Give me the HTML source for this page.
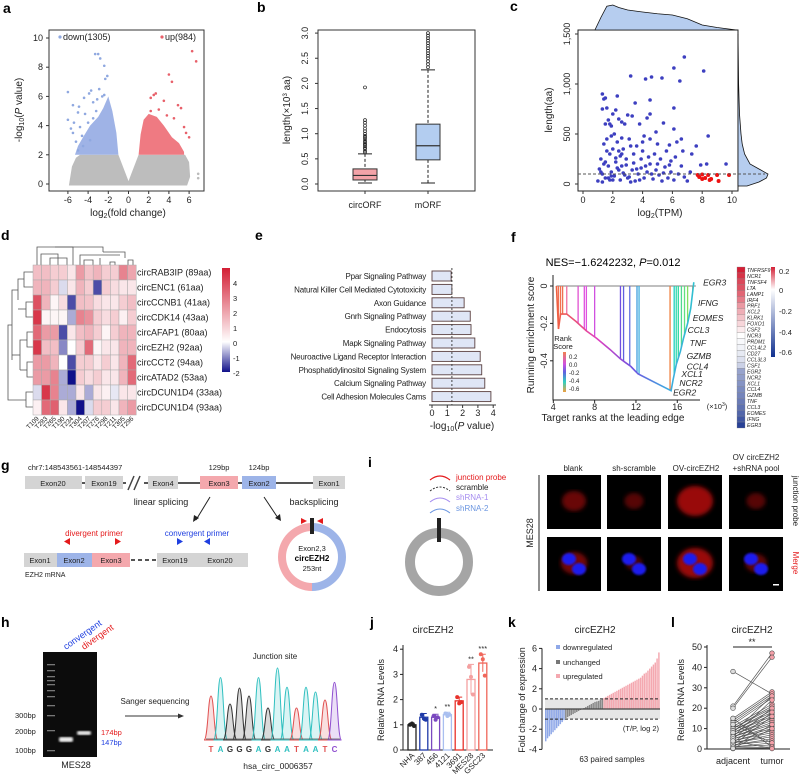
<!DOCTYPE html>
<html><head><meta charset="utf-8">
<style>
html,body{margin:0;padding:0;background:#fff}
svg{display:block;font-family:"Liberation Sans",Arial,sans-serif}
.pl{font-weight:bold;font-size:14px}
.t{font-size:9px;fill:#222}
.s{font-size:7.5px;fill:#222}
</style></head>
<body>
<svg id="fig" width="800" height="781" viewBox="0 0 800 781" xmlns="http://www.w3.org/2000/svg">
<defs>
<linearGradient id="hmGrad" x1="0" y1="0" x2="0" y2="1">
<stop offset="0" stop-color="#d31f35"/><stop offset="0.71" stop-color="#ffffff"/><stop offset="1" stop-color="#10108a"/>
</linearGradient>
<linearGradient id="gsGrad" x1="0" y1="0" x2="0" y2="1">
<stop offset="0" stop-color="#d31f35"/><stop offset="0.25" stop-color="#ffffff"/><stop offset="1" stop-color="#10308f"/>
</linearGradient>
<linearGradient id="rankGrad" x1="0" y1="0" x2="0" y2="1">
<stop offset="0" stop-color="#f08050"/><stop offset="0.3" stop-color="#d050e0"/><stop offset="0.5" stop-color="#6060e0"/><stop offset="0.75" stop-color="#30d0c0"/><stop offset="1" stop-color="#f0a040"/>
</linearGradient>
<linearGradient id="curveGrad" x1="0" y1="0" x2="1" y2="0">
<stop offset="0" stop-color="#f06040"/><stop offset="0.3" stop-color="#e040c0"/><stop offset="0.55" stop-color="#7050e0"/><stop offset="0.8" stop-color="#40a8e0"/><stop offset="1" stop-color="#30c0d0"/>
</linearGradient>
<filter id="blur2"><feGaussianBlur stdDeviation="2"/></filter>
<filter id="blur1"><feGaussianBlur stdDeviation="1"/></filter>
</defs>

<text class="pl" x="3" y="13">a</text>
<text class="pl" x="257" y="12">b</text>
<text class="pl" x="510" y="11">c</text>
<text class="pl" x="1" y="240">d</text>
<text class="pl" x="255" y="240">e</text>
<text class="pl" x="511" y="242">f</text>
<text class="pl" x="1" y="470">g</text>
<text class="pl" x="368" y="467">i</text>
<text class="pl" x="1" y="627">h</text>
<text class="pl" x="370" y="627">j</text>
<text class="pl" x="508" y="627">k</text>
<text class="pl" x="671" y="627">l</text>

<g id="pa">
<rect x="49" y="30" width="155" height="161" fill="none" stroke="#333" stroke-width="1"/>
<text x="22" y="110" transform="rotate(-90 22 110)" text-anchor="middle" class="t" style="font-size:10px">-log<tspan font-size="7" dy="2">10</tspan><tspan dy="-2">(</tspan><tspan font-style="italic">P</tspan> value)</text>
<text x="128" y="216" text-anchor="middle" class="t" style="font-size:10px">log<tspan font-size="7" dy="2">2</tspan><tspan dy="-2">(fold change)</tspan></text>
<circle cx="60" cy="37" r="1.6" fill="#8fa8e0"/>
<text x="63" y="40" class="t">down(1305)</text>
<circle cx="162" cy="37" r="1.6" fill="#e8606a"/>
<text x="165" y="40" class="t">up(984)</text>
</g>

<g id="pb">
<rect x="318" y="30" width="157" height="161" fill="none" stroke="#333"/>
<text x="290" y="110" transform="rotate(-90 290 110)" text-anchor="middle" class="t" style="font-size:10px">length(×10<tspan font-size="6" dy="-3">3</tspan><tspan dy="3"> aa)</tspan></text>
<text x="365" y="208" text-anchor="middle" class="t">circORF</text>
<text x="428" y="208" text-anchor="middle" class="t">mORF</text>
</g>

<g id="pc">
<rect x="578" y="30" width="160" height="161" fill="none" stroke="#222"/>
<text x="552" y="110" transform="rotate(-90 552 110)" text-anchor="middle" class="t" style="font-size:10px">length(aa)</text>
<text x="660" y="216" text-anchor="middle" class="t" style="font-size:10px">log<tspan font-size="7" dy="2">2</tspan><tspan dy="-2">(TPM)</tspan></text>
</g>

<g id="pd">
<g stroke="#555" stroke-width="0.8" fill="none">
<path d="M37 265 V247 H73 V265"/><path d="M41 265 V254 H58 V258"/><path d="M58 258 V265"/><path d="M50 265 V258 H67 V265"/>
<path d="M55 247 H103 V252"/><path d="M80 265 V255 H120 V255"/><path d="M84 265 V260 H93 V265"/><path d="M100 258 V265"/><path d="M110 265 V262 H115 V265"/><path d="M128 265 V260 H133 V265"/><path d="M103 252 H125 V258"/>
</g>
<g stroke="#555" stroke-width="0.8" fill="none">
<path d="M33 272 H24 V287 H33"/><path d="M24 279 H18 V300"/><path d="M33 302 H26 V317 H33"/><path d="M26 309 H18"/><path d="M18 290 H12 V360"/><path d="M33 332 H27 V347 H33"/><path d="M27 340 H20 V370"/><path d="M33 362 H27 V377 H33"/><path d="M27 370 H20"/><path d="M20 355 H12"/><path d="M33 392 H26 V407 H33"/><path d="M26 400 H8 V325 H12"/>
</g>
<rect x="222" y="268" width="8" height="104" fill="url(#hmGrad)"/>
</g>

<g id="pe">
<text x="462" y="429" text-anchor="middle" class="t" style="font-size:10px">-log<tspan font-size="7" dy="2">10</tspan><tspan dy="-2">(</tspan><tspan font-style="italic">P</tspan> value)</text>
</g>

<g id="pf">
<text x="613" y="266" text-anchor="middle" style="font-size:11px">NES=−1.6242232, <tspan font-style="italic">P</tspan>=0.012</text>
<text x="534" y="335" transform="rotate(-90 534 335)" text-anchor="middle" class="t" style="font-size:10px">Running enrichment score</text>
<text x="613" y="421" text-anchor="middle" class="t" style="font-size:10px">Target ranks at the leading edge</text>
<text x="717" y="409" text-anchor="middle" class="s">(×10<tspan font-size="5" dy="-3">3</tspan><tspan dy="3">)</tspan></text>
<text x="563" y="341" text-anchor="middle" class="s">Rank</text>
<text x="563" y="349" text-anchor="middle" class="s">Score</text>
<rect x="563" y="352" width="3" height="40" fill="url(#rankGrad)"/>
<text x="569" y="359" class="s" style="font-size:6px">0.2</text>
<text x="569" y="367" class="s" style="font-size:6px">0.0</text>
<text x="569" y="375" class="s" style="font-size:6px">-0.2</text>
<text x="569" y="383" class="s" style="font-size:6px">-0.4</text>
<text x="569" y="391" class="s" style="font-size:6px">-0.6</text>
<rect x="771" y="267" width="4" height="90" fill="url(#gsGrad)"/>
<text x="779" y="274" class="s">0.2</text>
<text x="779" y="293" class="s">0</text>
<text x="779" y="314" class="s">-0.2</text>
<text x="779" y="335" class="s">-0.4</text>
<text x="779" y="355" class="s">-0.6</text>
</g>

<g id="pg" font-size="8">
<text x="28" y="470" class="s" style="font-size:7.5px">chr7:148543561-148544397</text>
<text x="219" y="470" text-anchor="middle" class="s">129bp</text>
<text x="259" y="470" text-anchor="middle" class="s">124bp</text>
<line x1="25" y1="483" x2="345" y2="483" stroke="#555" stroke-width="2"/>
<rect x="25" y="476" width="57" height="13" fill="#d4d4d4"/><text x="53" y="486" text-anchor="middle" class="s">Exon20</text>
<rect x="85" y="476" width="38" height="13" fill="#d4d4d4"/><text x="104" y="486" text-anchor="middle" class="s">Exon19</text>
<rect x="126" y="478" width="18" height="9" fill="#fff"/>
<path d="M128 490 L134 476 M134 490 L140 476" stroke="#444" stroke-width="1.5"/>
<rect x="148" y="476" width="30" height="13" fill="#d4d4d4"/><text x="163" y="486" text-anchor="middle" class="s">Exon4</text>
<rect x="200" y="476" width="38" height="13" fill="#f4a8ad"/><text x="219" y="486" text-anchor="middle" class="s">Exon3</text>
<rect x="242" y="476" width="34" height="13" fill="#9db4e8"/><text x="259" y="486" text-anchor="middle" class="s">Exon2</text>
<rect x="313" y="476" width="32" height="13" fill="#d4d4d4"/><text x="329" y="486" text-anchor="middle" class="s">Exon1</text>
<text x="161" y="505" text-anchor="middle" class="t">linear splicing</text>
<text x="314" y="505" text-anchor="middle" class="t">backsplicing</text>
<path d="M210 497 L196 520" stroke="#222" stroke-width="1"/><path d="M193 522 L194 515 L199 518 Z" fill="#222"/>
<path d="M264 497 L278 518" stroke="#222" stroke-width="1"/><path d="M281 521 L275 518 L280 514 Z" fill="#222"/>
<text x="94" y="536" text-anchor="middle" style="font-size:8px" fill="#e41a1c">divergent primer</text>
<text x="197" y="536" text-anchor="middle" style="font-size:8px" fill="#1f3fe0">convergent primer</text>
<path d="M70 545 L64 541.5 L70 538 Z" fill="#e41a1c"/>
<path d="M115 545 L121 541.5 L115 538 Z" fill="#e41a1c"/>
<path d="M177 545 L183 541.5 L177 538 Z" fill="#1f3fe0"/>
<path d="M210 545 L204 541.5 L210 538 Z" fill="#1f3fe0"/>
<rect x="24" y="553" width="33" height="14" fill="#d4d4d4"/><text x="40" y="563" text-anchor="middle" class="s">Exon1</text>
<rect x="57" y="553" width="35" height="14" fill="#9db4e8"/><text x="74" y="563" text-anchor="middle" class="s">Exon2</text>
<rect x="92" y="553" width="38" height="14" fill="#f4a8ad"/><text x="111" y="563" text-anchor="middle" class="s">Exon3</text>
<line x1="131" y1="560" x2="157" y2="560" stroke="#555" stroke-width="2" stroke-dasharray="4 3"/>
<rect x="157" y="553" width="36" height="14" fill="#d4d4d4"/><text x="175" y="563" text-anchor="middle" class="s">Exon19</text>
<rect x="193" y="553" width="55" height="14" fill="#d4d4d4"/><text x="220" y="563" text-anchor="middle" class="s">Exon20</text>
<text x="25" y="577" class="s" style="font-size:7px">EZH2 mRNA</text>
<path d="M312 523 A34 34 0 0 0 312 591 L312 583 A26 26 0 0 1 312 531 Z" fill="#f4a8ad"/>
<path d="M312 523 A34 34 0 0 1 312 591 L312 583 A26 26 0 0 0 312 531 Z" fill="#9db4e8"/>
<rect x="310" y="518" width="4" height="16" fill="#222"/>
<path d="M301 518 L307 521 L301 524 Z" fill="#e41a1c"/>
<path d="M323 518 L317 521 L323 524 Z" fill="#e41a1c"/>
<text x="312" y="551" text-anchor="middle" class="s">Exon2,3</text>
<text x="312" y="561" text-anchor="middle" style="font-size:8px;font-weight:bold">circEZH2</text>
<text x="312" y="571" text-anchor="middle" class="s">253nt</text>
</g>

<g id="pi">
<circle cx="439" cy="562" r="29" fill="none" stroke="#a5a5a5" stroke-width="10"/>
<rect x="437" y="518" width="4" height="24" fill="#222"/>
<path d="M430 480 Q440 472 450 480" fill="none" stroke="#e41a1c" stroke-width="1.2"/>
<path d="M430 491 Q440 483 450 491" fill="none" stroke="#333" stroke-width="1" stroke-dasharray="2 1.5"/>
<path d="M430 502 Q440 494 450 502" fill="none" stroke="#a58cf0" stroke-width="1"/>
<path d="M430 513 Q440 505 450 513" fill="none" stroke="#6a95e0" stroke-width="1"/>
<text x="456" y="480" style="font-size:8px" fill="#e41a1c">junction probe</text>
<text x="456" y="490" style="font-size:8px" fill="#222">scramble</text>
<text x="456" y="500" style="font-size:8px" fill="#a58cf0">shRNA-1</text>
<text x="456" y="511" style="font-size:8px" fill="#6a95e0">shRNA-2</text>
<text x="573" y="471" text-anchor="middle" class="t" style="font-size:8px">blank</text>
<text x="634" y="471" text-anchor="middle" class="t" style="font-size:8px">sh-scramble</text>
<text x="696" y="471" text-anchor="middle" class="t" style="font-size:8px">OV-circEZH2</text>
<text x="756" y="460" text-anchor="middle" class="t" style="font-size:8px">OV circEZH2</text>
<text x="756" y="471" text-anchor="middle" class="t" style="font-size:8px">+shRNA pool</text>
<text x="533" y="533" transform="rotate(-90 533 533)" text-anchor="middle" class="t" style="font-size:9px">MES28</text>
<line x1="539" y1="475" x2="539" y2="591" stroke="#222"/>
<text x="793" y="501" transform="rotate(90 793 501)" text-anchor="middle" class="t" style="font-size:8px">junction probe</text>
<text x="793" y="563" transform="rotate(90 793 563)" text-anchor="middle" style="font-size:8px" fill="#e41a1c">Merge</text>
</g>

<g id="ph">
<rect x="43" y="652" width="54" height="105" fill="#0c0c0c"/>
<text x="66" y="650" transform="rotate(-35 66 650)" style="font-size:9px" fill="#2040e0">convergent</text>
<text x="84" y="650" transform="rotate(-35 84 650)" style="font-size:9px" fill="#e41a1c">divergent</text>
<text x="15" y="718" class="s">300bp</text>
<text x="15" y="734" class="s">200bp</text>
<text x="15" y="753" class="s">100bp</text>
<text x="101" y="735" style="font-size:7.5px" fill="#e41a1c">174bp</text>
<text x="101" y="745" style="font-size:7.5px" fill="#2040e0">147bp</text>
<text x="76" y="768" text-anchor="middle" class="t">MES28</text>
<text x="155" y="704" text-anchor="middle" class="t" style="font-size:8px">Sanger sequencing</text>
<line x1="125" y1="716" x2="180" y2="716" stroke="#333"/><path d="M184 716 L178 713.5 L178 718.5 Z" fill="#333"/>
<text x="275" y="659" text-anchor="middle" class="t" style="font-size:8px">Junction site</text>
<text x="278" y="769" text-anchor="middle" class="t" style="font-size:8.5px">hsa_circ_0006357</text>
</g>

<g id="pj">
<text x="433" y="633" text-anchor="middle" class="t" style="font-size:10px">circEZH2</text>
<text x="384" y="700" transform="rotate(-90 384 700)" text-anchor="middle" class="t">Relative RNA Levels</text>
</g>
<g id="pk">
<text x="595" y="633" text-anchor="middle" class="t" style="font-size:10px">circEZH2</text>
<text x="525" y="700" transform="rotate(-90 525 700)" text-anchor="middle" class="t">Fold change of expression</text>
<rect x="556" y="645" width="4" height="4" fill="#8fa8e8"/><text x="563" y="650" class="s">downregulated</text>
<rect x="556" y="660" width="4" height="4" fill="#777"/><text x="563" y="665" class="s">unchanged</text>
<rect x="556" y="674" width="4" height="4" fill="#f4a8b0"/><text x="563" y="679" class="s">upregulated</text>
<text x="659" y="731" text-anchor="end" class="s">(T/P, log 2)</text>
<text x="612" y="762" text-anchor="middle" class="s" style="font-size:8px">63 paired samples</text>
</g>
<g id="pl">
<text x="752" y="633" text-anchor="middle" class="t" style="font-size:10px">circEZH2</text>
<text x="684" y="700" transform="rotate(-90 684 700)" text-anchor="middle" class="t">Relative RNA Levels</text>
<text x="733" y="764" text-anchor="middle" class="t">adjacent</text>
<text x="772" y="764" text-anchor="middle" class="t">tumor</text>
<path d="M733 647 H772" stroke="#222"/>
<text x="752" y="645" text-anchor="middle" class="t">**</text>
</g>
</svg>

<script>
// ---------- data ----------
const volcanoDownX=[-3.3,-3,-2.8,-2.4,-2.1,-2.3,-3.7,-6,-3.9,-2.4,-4.4,-2.6,-5.5,-4.9,-3.5,-5,-6,-5.4,-4.3,-5.7,-5.5,-4.8,-4.6,-5.2,-4,-3.5,-4.5,-5,-3.8,-3.2,-2.9,-3.1];
const volcanoDownY=[8.9,8.9,8.6,8.1,7.4,7.2,6.4,6.3,6.2,6.1,5.9,6.0,5.4,5.3,5.6,4.9,4.4,4.2,4.8,3.8,3.5,3.9,3.3,2.9,4.2,4.5,2.6,2.3,3.0,5.0,6.5,5.8];
const volcanoUpX=[6.3,6.7,4,4.3,2.7,2.5,2.2,3.5,4.9,5.2,3,4.5,5.5,6,5.7,3.8,2.2,6.9,6.9];
const volcanoUpY=[9.1,8.4,7.5,7.0,6.2,6.1,5.9,5.7,5.4,5.2,5.1,4.5,3.9,3.2,3.5,4.7,5.0,0.7,0.4];
const downCloudX=[-1,-1.2,-1.6,-2,-2.5,-3,-3.8,-4.5,-5,-5.3];
const downCloudY=[2,3.5,5,6,5.2,4.6,4,3.2,2.6,2];
const upCloudX=[1,1.2,1.5,2,2.8,3.5,4.3,5,5.5,5.5];
const upCloudY=[2,3.4,4.4,4.8,4.6,4,3.2,2.8,2.2,2];
const grayCloudX=[-5.9,-5.6,-5.2,-4.8,-1,0,1,5.6,6,6.1,5.8];
const grayCloudY=[-0.1,1.2,1.8,2,2,0.2,2,2,1.5,0.5,-0.1];
const volcanoXTicks=[-6,-4,-2,0,2,4,6];
const volcanoYTicks=[0,2,4,6,8,10];

const boxGroups=['circORF','mORF'];
const boxQ1=[0.08,0.48];const boxMed=[0.17,0.76];const boxQ3=[0.3,1.19];
const boxLo=[0.02,0.02];const boxHi=[0.6,2.27];
const circOutliers=[0.63,0.66,0.7,0.72,0.75,0.78,0.8,0.83,0.86,0.9,0.93,0.96,1.0,1.05,1.1,1.16,1.22,1.27,1.92];
const mOutliers=[2.32,2.38,2.44,2.5,2.55,2.6,2.65,2.7,2.75,2.8,2.85,2.9,2.95,3.0];
const boxYTicks=[0,0.5,1.0,1.5,2.0,2.5,3.0];

const scatX=[1.3,1.4,1.5,1.3,1.6,1.7,1.5,1.8,1.9,2.3,2.2,2.0,2.4,2.6,2.8,3.2,3.0,3.3,3.5,4.2,4.6,5.3,4.5,4.5,4.3,3.8,6.1,6.5,6.8,8.1,6.1,6.1,5.4,4.9,4.1,4.5,5.0,5.8,6.3,6.6,7.6,8.4,7.3,6.7,7.9,8.3,9.6,1.2,1.4,1.6,1.8,2.0,2.1,2.3,2.5,2.7,2.9,3.1,3.4,3.6,3.9,4.0,4.4,4.8,5.2,5.6,5.9,6.2,1.1,1.3,1.5,1.7,1.9,2.1,2.3,2.5,2.7,2.9,3.1,3.3,3.5,3.7,3.9,4.1,4.3,4.5,4.7,4.9,5.1,5.3,5.5,5.7,5.9,6.1,6.4,6.8,7.2,7.0,1.0,1.4,1.8,2.2,2.6,3.0,3.4,3.8,4.2,4.6,5.0,5.4,5.8,6.6,1.6,2.4,3.2,4.0,1.9,2.6,1.2,1.7,2.2,2.8,3.6,1.5,2.0,2.6,3.2,1.3,1.9,2.4];
const scatY=[900,850,860,750,760,640,600,600,580,880,740,700,650,620,600,1080,690,680,810,1050,1070,1060,840,700,660,600,1160,1030,1270,1130,760,550,610,520,480,450,400,390,420,450,380,480,300,330,190,200,200,250,400,450,300,350,500,420,280,350,250,450,300,380,250,330,270,300,250,330,230,270,150,100,60,180,120,80,160,40,110,190,70,140,30,100,160,60,120,200,50,140,90,30,170,60,120,40,100,70,120,30,30,200,40,220,180,60,210,40,180,100,200,110,190,180,330,330,380,420,480,460,120,60,260,90,150,220,40,300,20,20,80,140];
const redX=[7.7,7.8,8.0,8.2,8.4,8.5,8.6,9.0,9.1,9.8,8.0];
const redY=[90,70,50,60,90,40,50,90,30,90,95];
const densTopX=[0.8,1.2,1.6,2,2.4,3,4,5,6,7,8,9,10.3];
const densTopH=[0,0.5,0.95,1,0.9,0.8,0.72,0.65,0.6,0.45,0.2,0.1,0];
const densRightY=[-20,20,60,100,150,200,300,400,500,700,1000,1500];
const densRightW=[0.3,0.7,0.95,1,0.7,0.4,0.22,0.14,0.1,0.05,0.02,0];
const scatXTicks=[0,2,4,6,8,10];
const scatYTicks=[0,500,1000,1500];
const scatYLabels=['0','500','1,000','1,500'];

const hmRows=['circRAB3IP (89aa)','circENC1 (61aa)','circCCNB1 (41aa)','circCDK14 (43aa)','circAFAP1 (80aa)','circEZH2 (92aa)','circCCT2 (94aa)','circATAD2 (53aa)','circDCUN1D4 (33aa)','circDCUN1D4 (93aa)'];
const hmCols=['T109','T283','T265','T190','T234','T304','T207','T276','T298','T211','T305','T296'];
const hmR1=[1.3,1.3,1,1,0.5,2,1.2,1.5,1,1,2.5,1.8];
const hmR2=[1.5,1.5,1,-0.3,0.5,1.5,1,-1.5,1,0.7,0.5,0.5];
const hmR3=[3.5,1.5,0.2,0.7,-1.5,1.3,1.2,0.7,0.5,0.5,1,1.3];
const hmR4=[4,0.2,0.2,0.2,-0.7,2.5,2.2,1,0.7,1,0.3,1];
const hmR5=[3,2,2,-1.5,0.5,1.3,1.5,1,0.2,1,1.5,1.5];
const hmR6=[4,1.3,1.3,-1,0,1,3,0.2,0.5,0.5,1.5,1.5];
const hmR7=[2,2,1.5,0,-1.5,1,1,0.5,1,0.5,1.5,3];
const hmR8=[2,2,2.5,-0.7,-2,1,0.7,1,0.5,0.5,1.5,3];
const hmR9=[-0.3,4,2.5,-0.7,-0.7,0.5,-0.7,0.5,0.3,-0.2,0.5,0.5];
const hmR10=[0.3,3,3.2,0.5,-0.7,-2,-0.3,1,1,0.5,1.5,2];
const hmTickVals=[4,3,2,1,0,-1,-2];

const pathways=['Ppar Signaling Pathway','Natural Killer Cell Mediated Cytotoxicity','Axon Guidance','Gnrh Signaling Pathway','Endocytosis','Mapk Signaling Pathway','Neuroactive Ligand Receptor Interaction','Phosphatidylinositol Signaling System','Calcium Signaling Pathway','Cell Adhesion Molecules Cams'];
const pathwayLogP=[1.25,1.3,2.1,2.5,2.55,2.8,3.15,3.25,3.45,3.85];
const pathwayTicks=[0,1,2,3,4];

const esRank=[4.3,4.5,4.7,5.3,6.2,7.2,8.2,9.5,10.5,11.0,11.5,12.2,15.4,15.6,15.9,16.3,16.6,17.0,17.3,17.6];
const esScore=[0,-0.23,-0.15,-0.15,-0.19,-0.24,-0.28,-0.34,-0.39,-0.41,-0.43,-0.47,-0.56,-0.5,-0.42,-0.35,-0.28,-0.2,-0.12,0.02];
const hitRank=[4.5,4.7,4.9,5.3,6.4,7.0,7.2,8.0,10.5,10.8,11.4,12.1,12.3,15.3,15.7,15.9,16.1,16.4,16.7,17.0,17.5];
const hitColor=['#f07050','#f07050','#f07050','#f070a0','#e050d0','#e050e0','#e050e0','#d050e0','#7050e0','#6060e0','#6070e0','#40a0e0','#40b0e0','#f08040','#20d0c0','#30d8b0','#30d8a0','#50d890','#60e080','#80e060','#f08030'];
const gseaYTicks=[0,-0.2,-0.4];
const gseaXTicks=[4,8,12,16];
const leadGenes=['EGR3','IFNG','EOMES','CCL3','TNF','GZMB','CCL4','XCL1','NCR2','EGR2'];
const leadGeneRank=[18.5,18.0,17.5,17.0,17.2,16.9,16.9,16.4,16.2,15.6];
const leadGeneES=[0.02,-0.09,-0.17,-0.235,-0.305,-0.375,-0.43,-0.47,-0.52,-0.57];
const gseaGenes=['TNFRSF9','NCR1','TNFSF4','LTA','LAMP1','IRF4','PRF1','XCL2','KLRK1','FOXO1','CSF2','NCR3','PRDM1','CCL4L2','CD27','CCL3L3','CSF1','EGR2','NCR2','XCL1','CCL4','GZMB','TNF','CCL3','EOMES','IFNG','EGR3'];
const gseaGeneScore=[0.22,0.2,0.18,0.17,0.15,0.13,0.1,0.08,0.06,0.04,0.02,0,-0.02,-0.04,-0.07,-0.1,-0.15,-0.3,-0.32,-0.35,-0.38,-0.4,-0.43,-0.46,-0.5,-0.55,-0.62];

const seqBases=['T','A','G','G','G','A','G','A','A','T','A','A','T','C'];
const seqPeak=[0.55,0.78,0.45,0.65,0.55,0.78,0.4,0.9,0.66,0.4,0.66,0.6,0.5,0.72];

const jLines=['NHA','387','456','4121','3691','MES28','GSC23'];
const jMean=[1.0,1.3,1.3,1.4,1.95,2.8,3.45];
const jErr=[0.06,0.15,0.12,0.1,0.15,0.6,0.35];
const jRep1=[1.0,1.4,1.35,1.45,2.1,3.3,3.8];
const jRep2=[1.05,1.25,1.2,1.35,1.85,2.9,3.6];
const jRep3=[0.95,1.2,1.3,1.4,1.9,2.2,2.95];
const jStars=['','','*','**','','**','***'];
const jYTicks=[0,1,2,3,4];

const kValues=[-3.2,-2.9,-2.7,-2.5,-2.3,-2.1,-1.9,-1.7,-1.5,-1.3,-1.1,-0.9,-0.8,-0.7,-0.6,-0.5,-0.4,-0.3,-0.2,-0.1,0.05,0.1,0.2,0.3,0.4,0.5,0.6,0.7,0.75,0.8,0.9,0.95,1.1,1.2,1.3,1.4,1.5,1.6,1.7,1.8,1.9,2.0,2.1,2.2,2.3,2.4,2.5,2.6,2.7,2.8,2.9,3.0,3.1,3.3,3.5,3.6,3.8,4.0,4.2,4.4,4.6,5.0,5.6];
const kYTicks=[-4,-2,0,2,4,6];

const lAdjacent=[38,21,20,15,14,13,12,11,10,10,9,9,8,8,7,7,6,6,5,5,4,4,3,3,2,2,1,1,0.5,0.2,12,15,8,6,5,3,2,1,0.3,4];
const lTumor=[27,47,45,28,27,26,25,22,21,20,19,18,17,16,15,14,13,12,11,10,9,8,7,6,5,4,3,2,1,0.5,3,1,26,24,20,18,16,12,10,0.2];
const lYTicks=[0,10,20,30,40,50];

// ---------- helpers ----------
const NS='http://www.w3.org/2000/svg';
const fig=document.getElementById('fig');
function mk(tag,attrs,parent){const e=document.createElementNS(NS,tag);for(const k in attrs)e.setAttribute(k,attrs[k]);(parent||fig).appendChild(e);return e;}
function txt(s,attrs,parent){const e=mk('text',attrs,parent);e.textContent=s;return e;}
function lin(a,b,c,d){return v=>c+(v-a)*(d-c)/(b-a);}
let el;

// ---------- a ----------
{const g=document.getElementById('pa');
const X=lin(0,1,128.5,138.6), Y=lin(0,1,184,169.4);
el=mk('polygon',{points:grayCloudX.map((x,i)=>X(x)+','+Y(grayCloudY[i])).join(' '),fill:'#bdbdbd'},g);

el=mk('polygon',{points:downCloudX.map((x,i)=>X(x)+','+Y(downCloudY[i])).join(' '),fill:'#9fb3e6'},g);

el=mk('polygon',{points:upCloudX.map((x,i)=>X(x)+','+Y(upCloudY[i])).join(' '),fill:'#ef7a82'},g);

volcanoDownX.forEach((x,i)=>{el=mk('circle',{cx:X(x),cy:Y(volcanoDownY[i]),r:1.3,fill:'#8fa8e0'},g);
});
volcanoUpX.forEach((x,i)=>{el=mk('circle',{cx:X(x),cy:Y(volcanoUpY[i]),r:1.3,fill:volcanoUpY[i]<2?'#bbb':'#e8606a'},g);
});
volcanoXTicks.forEach(v=>{el=mk('line',{x1:X(v),x2:X(v),y1:191,y2:194,stroke:'#333'},g);

el=txt(v,{x:X(v),y:203,'text-anchor':'middle',class:'t'},g);
});
volcanoYTicks.forEach(v=>{el=mk('line',{x1:46,x2:49,y1:Y(v),y2:Y(v),stroke:'#333'},g);

el=txt(v,{x:43,y:Y(v)+3,'text-anchor':'end',class:'t'},g);
});}

// ---------- b ----------
{const g=document.getElementById('pb');
const Y=lin(0,1,184,133.7); const cx=[365,428]; const fills=['#f4a3a8','#b3cdf0'];
boxYTicks.forEach(v=>{el=mk('line',{x1:315,x2:318,y1:Y(v),y2:Y(v),stroke:'#333'},g);

el=txt(v.toFixed(1),{x:308,y:Y(v),'text-anchor':'middle',class:'t',transform:`rotate(-90 308 ${Y(v)})`},g);
});
boxGroups.forEach((n,i)=>{const x=cx[i];
el=mk('line',{x1:x,x2:x,y1:Y(boxHi[i]),y2:Y(boxLo[i]),stroke:'#222','stroke-dasharray':'3 2'},g);

el=mk('path',{d:`M${x-7} ${Y(boxHi[i])}H${x+7}M${x-7} ${Y(boxLo[i])}H${x+7}`,stroke:'#222'},g);

el=mk('rect',{x:x-12,y:Y(boxQ3[i]),width:24,height:Y(boxQ1[i])-Y(boxQ3[i]),fill:fills[i],stroke:'#333'},g);

el=mk('line',{x1:x-12,x2:x+12,y1:Y(boxMed[i]),y2:Y(boxMed[i]),stroke:'#333','stroke-width':1.2},g);

el=mk('line',{x1:x,x2:x,y1:191,y2:194,stroke:'#333'},g);
});
circOutliers.forEach(v=>{el=mk('circle',{cx:365,cy:Y(v),r:1.5,fill:'none',stroke:'#222','stroke-width':0.7},g);
});
mOutliers.forEach(v=>{el=mk('circle',{cx:428,cy:Y(v),r:1.5,fill:'none',stroke:'#222','stroke-width':0.7},g);
});}

// ---------- c ----------
{const g=document.getElementById('pc');
const X=lin(0,1,583,597.9), Y=lin(0,1,184,183.9);
let d='M'+X(densTopX[0])+' 30 '+densTopX.map((x,i)=>'L'+X(x)+' '+(30-densTopH[i]*25)).join(' ')+' L'+X(densTopX[densTopX.length-1])+' 30Z';
el=mk('path',{d:d,fill:'#b6cdef',stroke:'#111','stroke-width':0.8},g);

d='M738 '+Y(densRightY[0])+' '+densRightY.map((y,i)=>'L'+(738+densRightW[i]*30)+' '+Y(y)).join(' ')+' L738 '+Y(1500)+'Z';
el=mk('path',{d:d,fill:'#b6cdef',stroke:'#111','stroke-width':0.8},g);

scatX.forEach((x,i)=>{el=mk('circle',{cx:X(x),cy:Y(scatY[i]),r:1.8,fill:'#3d3fc0'},g);
});
redX.forEach((x,i)=>{el=mk('circle',{cx:X(x),cy:Y(redY[i]),r:2,fill:'#ee1111'},g);
});
el=mk('line',{x1:578,x2:765,y1:Y(100),y2:Y(100),stroke:'#555','stroke-dasharray':'3 2'},g);

scatXTicks.forEach(v=>{el=mk('line',{x1:X(v),x2:X(v),y1:191,y2:194,stroke:'#333'},g);

el=txt(v,{x:X(v),y:203,'text-anchor':'middle',class:'t'},g);
});
scatYTicks.forEach((v,i)=>{el=mk('line',{x1:575,x2:578,y1:Y(v),y2:Y(v),stroke:'#333'},g);

el=txt(scatYLabels[i],{x:570,y:Y(v),'text-anchor':'middle',class:'t',transform:`rotate(-90 570 ${Y(v)})`},g);
});}

// ---------- d ----------
{const g=document.getElementById('pd');
const rows=[hmR1,hmR2,hmR3,hmR4,hmR5,hmR6,hmR7,hmR8,hmR9,hmR10];
const cw=8.6, rh=15, x0=33, y0=265;
function col(v){let t;if(v>=0){t=Math.min(v/4.5,1);return `rgb(${Math.round(255-(255-211)*t)},${Math.round(255-(255-31)*t)},${Math.round(255-(255-53)*t)})`;}
t=Math.min(-v/2,1);return `rgb(${Math.round(255-(255-16)*t)},${Math.round(255-(255-16)*t)},${Math.round(255-(255-138)*t)})`;}
rows.forEach((r,ri)=>{r.forEach((v,ci)=>{el=mk('rect',{x:x0+ci*cw,y:y0+ri*rh,width:cw,height:rh,fill:col(v),stroke:'#aaa','stroke-width':0.5},g);
});
el=txt(hmRows[ri],{x:137,y:y0+ri*rh+rh/2+3,class:'t'},g);
});
hmCols.forEach((c,ci)=>{const x=x0+ci*cw+cw/2;el=txt(c,{x:x+2,y:419,'text-anchor':'end',class:'s',style:'font-size:6.5px',transform:`rotate(-45 ${x+2} 419)`},g);
});
hmTickVals.forEach(v=>{const y=343-15*v;el=txt(v,{x:233,y:y+3,class:'s'},g);
});}

// ---------- e ----------
{const g=document.getElementById('pe');
const X=lin(0,1,432,447.3);
pathways.forEach((p,i)=>{const y=276+i*13.4;
el=mk('rect',{x:X(0),y:y-5,width:X(pathwayLogP[i])-X(0),height:10,fill:'#dfe6f6',stroke:'#5a4040','stroke-width':0.9},g);

el=txt(p,{x:426,y:y+3,'text-anchor':'end',class:'t',style:'font-size:8px;letter-spacing:-0.2px'},g);
});
el=mk('line',{x1:429,x2:496,y1:405,y2:405,stroke:'#333'},g);

el=mk('line',{x1:X(1.3),x2:X(1.3),y1:268,y2:405,stroke:'#444','stroke-dasharray':'2 2'},g);

pathwayTicks.forEach(v=>{el=mk('line',{x1:X(v),x2:X(v),y1:405,y2:408,stroke:'#333'},g);

el=txt(v,{x:X(v),y:416,'text-anchor':'middle',class:'t'},g);
});}

// ---------- f ----------
{const g=document.getElementById('pf');
const X=lin(0,1,512,522.33), Y=lin(0,1,286,99);
function esAt(r){for(let i=1;i<esRank.length;i++){if(r<=esRank[i]){const t=(r-esRank[i-1])/(esRank[i]-esRank[i-1]);return esScore[i-1]+t*(esScore[i]-esScore[i-1]);}}return esScore[esScore.length-1];}
el=mk('line',{x1:X(4.3),x2:X(17.8),y1:Y(0),y2:Y(0),stroke:'#aaa','stroke-width':1.5},g);

hitRank.forEach((r,i)=>{el=mk('line',{x1:X(r),x2:X(r),y1:Y(0),y2:Y(esAt(r)),stroke:hitColor[i],'stroke-width':1.3},g);
});
el=mk('polyline',{points:esRank.map((r,i)=>X(r)+','+Y(esScore[i])).join(' '),fill:'none',stroke:'url(#curveGrad)','stroke-width':1.6},g);

el=mk('path',{d:`M553 275 V400 H700`,fill:'none',stroke:'#222'},g);

gseaYTicks.forEach(v=>{el=txt(v,{x:547,y:Y(v),'text-anchor':'middle',class:'t',transform:`rotate(-90 547 ${Y(v)})`},g);

el=mk('line',{x1:550,x2:553,y1:Y(v),y2:Y(v),stroke:'#222'},g);
});
gseaXTicks.forEach(v=>{el=txt(v,{x:X(v),y:410,'text-anchor':'middle',class:'t'},g);

el=mk('line',{x1:X(v),x2:X(v),y1:400,y2:403,stroke:'#222'},g);
});
leadGenes.forEach((n,i)=>{const x=X(leadGeneRank[i]);const y=Y(leadGeneES[i])+3;
el=txt(n,{x:x,y:y,class:'t',style:'font-style:italic;font-size:8.5px'},g);
});
const rh=161/gseaGenes.length;
gseaGenes.forEach((n,i)=>{const s=gseaGeneScore[i];let c;
if(s>=0){const t=Math.min(s/0.22,1);c=`rgb(${Math.round(255-44*t)},${Math.round(255-224*t)},${Math.round(255-202*t)})`;}
else{const t=Math.min(-s/0.62,1);c=`rgb(${Math.round(255-215*t)},${Math.round(255-190*t)},${Math.round(255-105*t)})`;}
el=mk('rect',{x:737,y:267+i*rh,width:8,height:rh,fill:c,stroke:'#888','stroke-width':0.3},g);

el=txt(n,{x:747,y:267+i*rh+rh-1,style:'font-size:5.2px;font-style:italic',fill:'#222'},g);
});}

// ---------- i microscopy ----------
{const g=document.getElementById('pi');
const colsX=[547,607,668,729]; const rowsY=[475,537];
const redAmt=[[0.5,0.3,1,0.3],[0.6,0.2,1,0.4]];
colsX.forEach((x,ci)=>rowsY.forEach((y,ri)=>{
el=mk('rect',{x:x,y:y,width:54,height:54,fill:'#000'},g);

const a=redAmt[ri][ci];
el=mk('ellipse',{cx:x+27,cy:y+26,rx:6+12*a,ry:5+10*a,fill:'#c01010',opacity:0.3+0.5*a,filter:'url(#blur2)'},g);

if(ri===1){[[x+22,y+22],[x+32,y+32]].forEach(p=>{el=mk('ellipse',{cx:p[0],cy:p[1],rx:7,ry:6,fill:'#1a1aee',filter:'url(#blur1)'},g);
});}
}));
el=mk('rect',{x:773,y:584,width:6,height:1.5,fill:'#fff'},g);
}

// ---------- h ----------
{const g=document.getElementById('ph');
const ladder=[664,670,676,680,684,690,696,705,715,730,750];
ladder.forEach(y=>{el=mk('rect',{x:47,y:y,width:8,height:1.3,fill:'#777'},g);
});
el=mk('rect',{x:59,y:737,width:14,height:5,rx:2,fill:'#eee',filter:'url(#blur1)'},g);

el=mk('rect',{x:77,y:731,width:14,height:4,rx:2,fill:'#eee',filter:'url(#blur1)'},g);

const cc={T:'#e05050',A:'#30c0c0',G:'#333',C:'#9050d0'};
const X=i=>211+i*9.5, base=740;
seqBases.forEach((b,i)=>{const x=X(i),h=seqPeak[i]*80;
el=mk('path',{d:`M${x-7} ${base} C${x-3} ${base} ${x-3} ${base-h} ${x} ${base-h} C${x+3} ${base-h} ${x+3} ${base} ${x+7} ${base}Z`,fill:cc[b],'fill-opacity':0.18,stroke:cc[b],'stroke-width':1},g);

el=txt(b,{x:x,y:752,'text-anchor':'middle',fill:cc[b],style:'font-size:8px;font-weight:bold'},g);
});
el=mk('line',{x1:206,x2:340,y1:739,y2:739,stroke:'#555','stroke-width':0.8},g);
}

// ---------- j ----------
{const g=document.getElementById('pj');
const Y=lin(0,1,750,724.8); const X=i=>412+i*11.8;
const stroke=['#222','#1f3aa8','#7a48bf','#a9bff0','#e8322b','#f4a0a0','#f0665a'];
el=mk('path',{d:'M403 645 V750 H493',fill:'none',stroke:'#222'},g);

jYTicks.forEach(v=>{el=mk('line',{x1:400,x2:403,y1:Y(v),y2:Y(v),stroke:'#222'},g);

el=txt(v,{x:398,y:Y(v)+3,'text-anchor':'end',class:'t'},g);
});
jLines.forEach((n,i)=>{const x=X(i);
el=mk('rect',{x:x-4,y:Y(jMean[i]),width:8,height:Y(0)-Y(jMean[i]),fill:'#fff',stroke:stroke[i],'stroke-width':1.3},g);

el=mk('path',{d:`M${x} ${Y(jMean[i]-jErr[i])}V${Y(jMean[i]+jErr[i])}M${x-3} ${Y(jMean[i]+jErr[i])}H${x+3}`,stroke:stroke[i],'stroke-width':1},g);

[jRep1[i],jRep2[i],jRep3[i]].forEach((v,k)=>{el=mk('circle',{cx:x-2+k*2,cy:Y(v),r:2,fill:stroke[i]},g);
});
if(jStars[i]){el=txt(jStars[i],{x:x,y:Y(jMean[i]+jErr[i])-3,'text-anchor':'middle',class:'s'},g);
}
el=txt(n,{x:x+3,y:756,'text-anchor':'end',class:'t',style:'font-size:8px',transform:`rotate(-45 ${x+3} 756)`},g);
});}

// ---------- k ----------
{const g=document.getElementById('pk');
const Y=lin(0,1,709,698.9); const bw=115/kValues.length; const X=i=>545+i*bw;
el=mk('rect',{x:545,y:Y(1),width:115,height:Y(-1)-Y(1),fill:'#e6e6e6'},g);

kValues.forEach((v,i)=>{const c=v<-1?'#8fa8e8':(v>1?'#f4a8b0':'#888');
el=mk('rect',{x:X(i),y:Math.min(Y(0),Y(v)),width:bw*0.8,height:Math.abs(Y(v)-Y(0)),fill:c},g);
});
[1,-1].forEach(v=>{el=mk('line',{x1:545,x2:660,y1:Y(v),y2:Y(v),stroke:'#222','stroke-dasharray':'3 2'},g);
});
el=mk('line',{x1:545,x2:660,y1:Y(0),y2:Y(0),stroke:'#444','stroke-width':1.2},g);

el=mk('line',{x1:542,x2:542,y1:Y(6),y2:Y(-4),stroke:'#222'},g);

kYTicks.forEach(v=>{el=mk('line',{x1:539,x2:542,y1:Y(v),y2:Y(v),stroke:'#222'},g);

el=txt(v,{x:537,y:Y(v)+3,'text-anchor':'end',class:'t'},g);
});}

// ---------- l ----------
{const g=document.getElementById('pl');
const Y=lin(0,1,749,746.96);
el=mk('path',{d:'M707 645 V749 H790',fill:'none',stroke:'#222'},g);

lYTicks.forEach(v=>{el=mk('line',{x1:704,x2:707,y1:Y(v),y2:Y(v),stroke:'#222'},g);

el=txt(v,{x:702,y:Y(v)+3,'text-anchor':'end',class:'t'},g);
});
lAdjacent.forEach((a,i)=>{el=mk('line',{x1:733,x2:772,y1:Y(a),y2:Y(lTumor[i]),stroke:'#555','stroke-width':0.7},g);
});
lAdjacent.forEach((a,i)=>{el=mk('circle',{cx:733,cy:Y(a),r:2.3,fill:'#ddd',stroke:'#444','stroke-width':0.6},g);

el=mk('circle',{cx:772,cy:Y(lTumor[i]),r:2.3,fill:'#f4a0a8',stroke:'#444','stroke-width':0.6},g);
});}
</script>
</body></html>
